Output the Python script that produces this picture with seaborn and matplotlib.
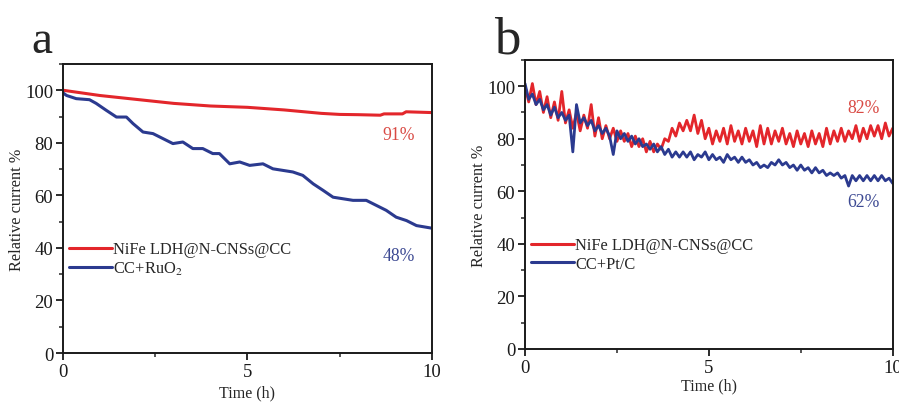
import numpy as np
import pandas as pd
import matplotlib
matplotlib.use('Agg')
import matplotlib.pyplot as plt
import seaborn as sns
from matplotlib.ticker import MultipleLocator

# --- data ---
# panel a: smooth curves, (time h, relative current %)
a_red_t = [0, 1, 2, 3, 4, 5, 6, 7, 7.5, 8, 8.6, 8.7, 9.2, 9.3, 10]
a_red_y = [100, 98, 96.5, 95, 94, 93.5, 92.5, 91.2, 90.8, 90.7, 90.5, 91, 91, 91.8, 91.5]

a_blue_t = [0, 0.1, 0.36, 0.72, 0.9, 1.17, 1.45, 1.72, 1.9, 2.17, 2.44, 2.71, 2.98, 3.25,
            3.52, 3.79, 4.06, 4.24, 4.52, 4.79, 5.06, 5.42, 5.69, 5.96, 6.23, 6.5, 6.78,
            7.05, 7.32, 7.59, 7.86, 8.22, 8.49, 8.76, 9.03, 9.31, 9.58, 10]
a_blue_y = [99, 98, 96.8, 96.4, 95, 92.4, 89.8, 89.8, 87.3, 84.1, 83.5, 81.6, 79.7, 80.3,
            77.8, 77.8, 75.9, 75.9, 72, 72.7, 71.4, 72, 70.1, 69.5, 68.9, 67.6, 64.4,
            61.9, 59.3, 58.7, 58.1, 58.1, 56.2, 54.3, 51.7, 50.4, 48.5, 47.5]

# panel b: noisy logs sampled every 0.1 h
b_time = np.round(np.arange(0, 101) * 0.1, 1)
b_red_y = [100, 94, 101, 93, 98, 90, 96, 88, 94, 87,
           98, 86, 91, 84, 90, 83, 89, 84, 93, 81,
           88, 80, 85, 80, 84, 79, 83, 79, 82, 77,
           81, 77, 80, 75, 79, 75, 78, 76, 80, 79,
           84, 81, 86, 83, 87, 83, 89, 82, 87, 80,
           84, 78, 83, 79, 84, 78, 85, 79, 83, 78,
           84, 79, 83, 77, 85, 78, 84, 78, 83, 79,
           84, 78, 82, 77, 83, 78, 82, 77, 83, 78,
           82, 77, 84, 78, 83, 79, 84, 79, 83, 80,
           85, 79, 84, 80, 85, 81, 85, 80, 86, 81, 84]
b_blue_y = [101, 95, 97, 93, 95, 91, 93, 89, 92, 88,
            90, 87, 89, 75, 93, 86, 88, 85, 87, 83,
            85, 82, 84, 81, 74, 83, 80, 82, 79, 81,
            78, 80, 77, 78, 76, 78, 75, 77, 74, 76,
            73, 75, 73, 75, 73, 75, 72, 74, 73, 75,
            72, 74, 72, 73, 71, 74, 72, 73, 71, 73,
            71, 72, 70, 71, 69, 70, 69, 71, 70, 72,
            70, 71, 69, 70, 68, 70, 68, 69, 67, 69,
            67, 68, 66, 67, 66, 67, 65, 66, 62, 66,
            64, 66, 64, 66, 64, 66, 64, 66, 64, 65, 63]

red = '#e3262b'
blue = '#2b3a8f'
red_txt = '#d94a44'
blue_txt = '#3d4a93'

sns.set_theme(style='ticks')
plt.rcParams['font.family'] = ['Liberation Serif', 'DejaVu Serif']
plt.rcParams['mathtext.fontset'] = 'stix'

df_a = pd.concat([
    pd.DataFrame({'t': a_red_t, 'y': a_red_y, 's': 'NiFe LDH@N-CNSs@CC'}),
    pd.DataFrame({'t': a_blue_t, 'y': a_blue_y, 's': 'CC+RuO$_2$'}),
])
df_b = pd.concat([
    pd.DataFrame({'t': b_time, 'y': b_red_y, 's': 'NiFe LDH@N-CNSs@CC'}),
    pd.DataFrame({'t': b_time, 'y': b_blue_y, 's': 'CC+Pt/C'}),
])

fig = plt.figure(figsize=(8.99, 4.06), dpi=100)
ax_a = fig.add_axes([0.070, 0.128, 0.4105, 0.712])
ax_b = fig.add_axes([0.584, 0.138, 0.409, 0.712])

sns.lineplot(data=df_a, x='t', y='y', hue='s', palette=[red, blue], sort=False,
             estimator=None, linewidth=2.2, ax=ax_a)
sns.lineplot(data=df_b, x='t', y='y', hue='s', palette=[red, blue], sort=False,
             estimator=None, linewidth=2.0, ax=ax_b)

for ax, xpad in ((ax_a, 3.5), (ax_b, 1.5)):
    ax.set_xlim(0, 10)
    ax.set_ylim(0, 110)
    ax.xaxis.set_major_locator(MultipleLocator(5))
    ax.xaxis.set_minor_locator(MultipleLocator(2.5))
    ax.yaxis.set_major_locator(MultipleLocator(20))
    ax.yaxis.set_minor_locator(MultipleLocator(10))
    ax.tick_params(which='major', direction='out', length=5, width=1.3, labelsize=13.5,
                   pad=2, colors='#1a1a1a')
    ax.tick_params(which='minor', direction='out', length=3, width=1.1)
    for sp in ax.spines.values():
        sp.set_linewidth(1.4)
        sp.set_color('#1a1a1a')
    ax.set_xlabel('Time (h)', fontsize=11.5, labelpad=xpad)
    ax.set_ylabel('Relative current %', fontsize=11.7, labelpad=0)
    leg = ax.legend(loc='upper left', bbox_to_anchor=(-0.01, 0.42), frameon=False,
                    fontsize=11.8, handlelength=2.6, handletextpad=0.1,
                    labelspacing=0.15, borderaxespad=0.2)
    for line in leg.get_lines():
        line.set_linewidth(2.2)

ax_a.text(9.1, 83, '91%', color=red_txt, fontsize=12.7, ha='center', va='center')
ax_a.text(9.1, 37, '48%', color=blue_txt, fontsize=12.7, ha='center', va='center')
ax_b.text(9.2, 92, '82%', color=red_txt, fontsize=12.7, ha='center', va='center')
ax_b.text(9.2, 56, '62%', color=blue_txt, fontsize=12.7, ha='center', va='center')

fig.text(0.035, 0.869, 'a', fontsize=34, ha='left', va='baseline')
fig.text(0.549, 0.869, 'b', fontsize=38, ha='left', va='baseline')

fig.savefig('out.png', dpi=100)
